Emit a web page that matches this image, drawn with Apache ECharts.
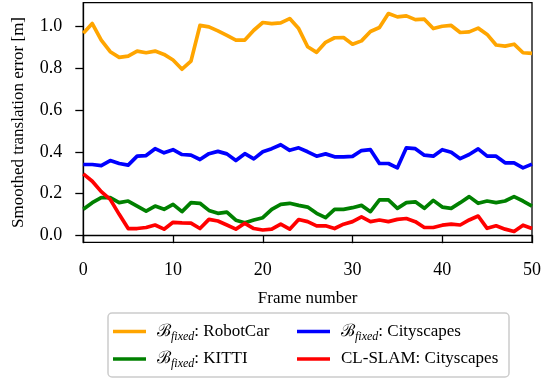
<!DOCTYPE html>
<html>
<head>
<meta charset="utf-8">
<script src="https://cdn.jsdelivr.net/npm/echarts@6/dist/echarts.min.js"></script>
<style>
html,body{margin:0;padding:0;background:#fff;}
#chart{width:544px;height:381px;}
</style>
</head>
<body>
<div id="chart"></div>
<script>
const frames = [0,1,2,3,4,5,6,7,8,9,10,11,12,13,14,15,16,17,18,19,20,21,22,23,24,25,26,27,28,29,30,31,32,33,34,35,36,37,38,39,40,41,42,43,44,45,46,47,48,49,50];
const robotCar = [0.968,1.015,0.936,0.880,0.853,0.859,0.883,0.875,0.883,0.867,0.840,0.796,0.835,1.006,0.999,0.980,0.958,0.936,0.936,0.983,1.020,1.015,1.018,1.039,0.991,0.904,0.877,0.925,0.947,0.948,0.916,0.932,0.977,0.996,1.063,1.047,1.052,1.034,1.036,0.991,1.002,1.006,0.972,0.975,0.993,0.963,0.912,0.907,0.916,0.875,0.872];
const kitti = [0.124,0.156,0.180,0.180,0.156,0.164,0.140,0.116,0.140,0.124,0.148,0.113,0.156,0.153,0.119,0.105,0.111,0.072,0.060,0.073,0.084,0.124,0.148,0.153,0.143,0.135,0.105,0.084,0.124,0.124,0.132,0.143,0.113,0.169,0.169,0.129,0.156,0.160,0.129,0.167,0.135,0.129,0.156,0.185,0.153,0.164,0.156,0.164,0.185,0.164,0.140];
const cityscapes = [0.339,0.339,0.334,0.358,0.344,0.336,0.379,0.382,0.415,0.395,0.410,0.387,0.384,0.363,0.391,0.402,0.390,0.358,0.391,0.366,0.400,0.415,0.434,0.407,0.419,0.400,0.379,0.390,0.376,0.376,0.378,0.406,0.410,0.344,0.344,0.323,0.419,0.415,0.384,0.379,0.410,0.398,0.367,0.387,0.414,0.379,0.379,0.347,0.347,0.323,0.341];
const clSlam = [0.294,0.259,0.209,0.172,0.100,0.032,0.032,0.037,0.049,0.029,0.062,0.059,0.058,0.032,0.076,0.068,0.049,0.029,0.057,0.032,0.025,0.029,0.053,0.029,0.075,0.065,0.045,0.045,0.032,0.053,0.065,0.088,0.065,0.073,0.065,0.076,0.080,0.065,0.037,0.037,0.048,0.053,0.049,0.073,0.092,0.033,0.045,0.029,0.018,0.048,0.032];
const yTicks = [0.0,0.2,0.4,0.6,0.8,1.0];
const xTicks = [0,10,20,30,40,50];
const seriesNames = ['RobotCar','KITTI','Cityscapes','CL-SLAM'];
const legendPrefix = {'RobotCar':'fixed','KITTI':'fixed','Cityscapes':'fixed','CL-SLAM':null};
const legendText = {'RobotCar':': RobotCar','KITTI':': KITTI','Cityscapes':': Cityscapes','CL-SLAM':'CL-SLAM: Cityscapes'};
const colors = ['#FFA500','#008000','#0000FF','#FF0000'];
const valuesList = [robotCar, kitti, cityscapes, clSlam];

const pair = arr => frames.map((f,i)=>[f,arr[i]]);
const FONT = 'Liberation Serif';

function legendFormatter(name){
  if (legendPrefix[name]) {
    return '{b|\u212C}{s|' + legendPrefix[name] + '}{t|' + legendText[name] + '}';
  }
  return '{t0|' + legendText[name] + '}';
}
const legendRich = {
  b:{fontFamily:'DejaVu Serif', fontSize:17, lineHeight:22, padding:[0,0,0,6], color:'#000'},
  s:{fontFamily:FONT, fontStyle:'italic', fontSize:12, lineHeight:12, verticalAlign:'bottom', color:'#000'},
  t:{fontFamily:FONT, fontSize:17, lineHeight:22, color:'#000'},
  t0:{fontFamily:FONT, fontSize:17, lineHeight:22, padding:[0,0,0,6], color:'#000'}
};
const legendCommon = {
  orient:'vertical', top:323, itemGap:8, itemWidth:33, itemHeight:3.5, icon:'rect', padding:0,
  formatter: legendFormatter,
  textStyle:{fontFamily:FONT, fontSize:17, color:'#000', rich:legendRich}
};

const chart = echarts.init(document.getElementById('chart'), null, {renderer:'canvas'});
chart.setOption({
  animation:false,
  backgroundColor:'#fff',
  grid:{left:83.3, right:10.7, top:2.7, bottom:138.7, show:true, borderColor:'#000', borderWidth:1.3, containLabel:false},
  graphic:[{type:'rect', shape:{x:108, y:313, width:401, height:64, r:4}, style:{fill:'rgba(255,255,255,0.8)', stroke:'#cccccc', lineWidth:1.5}, z:0}],
  legend:[
    Object.assign({left:113, data:['RobotCar','KITTI']}, legendCommon),
    Object.assign({left:297, data:['Cityscapes','CL-SLAM']}, legendCommon)
  ],
  xAxis:{
    type:'value', min:0, max:50, interval:10,
    name:'Frame number', nameLocation:'middle', nameGap:48,
    nameTextStyle:{fontFamily:FONT, fontSize:17, color:'#000'},
    axisLine:{show:true, lineStyle:{color:'#000', width:1.3}},
    axisTick:{show:true, length:8, lineStyle:{color:'#000', width:1.3}},
    axisLabel:{fontFamily:FONT, fontSize:18, color:'#000', margin:19},
    splitLine:{show:false}
  },
  yAxis:{
    type:'value', min:-0.034, max:1.115,
    name:'Smoothed translation error [m]', nameLocation:'middle', nameGap:56,
    nameTextStyle:{fontFamily:FONT, fontSize:17, color:'#000'},
    axisLine:{show:true, lineStyle:{color:'#000', width:1.3}},
    axisTick:{show:true, length:8, customValues:yTicks, lineStyle:{color:'#000', width:1.3}},
    axisLabel:{fontFamily:FONT, fontSize:18, color:'#000', margin:21, customValues:yTicks, formatter:v=>Number(v).toFixed(1)},
    splitLine:{show:false}
  },
  series: seriesNames.map((n,i)=>({
    name:n, type:'line', data:pair(valuesList[i]), showSymbol:false, symbol:'none',
    lineStyle:{color:colors[i], width:3.7, join:'round'}, itemStyle:{color:colors[i]}, z:2+i
  }))
});
</script>
</body>
</html>
